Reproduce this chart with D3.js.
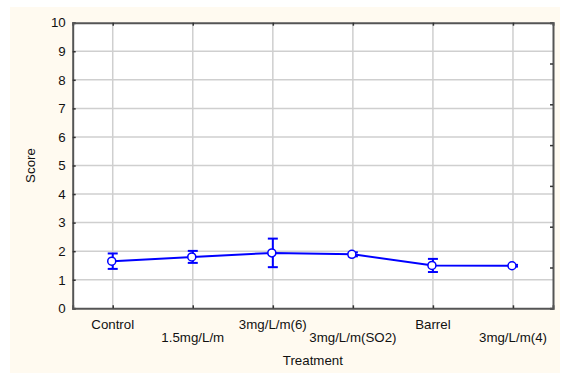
<!DOCTYPE html>
<html>
<head>
<meta charset="utf-8">
<script src="https://cdn.jsdelivr.net/npm/d3@7"></script>
<style>
  body { margin: 0; background: #fff; }
  svg { display: block; font-family: "Liberation Sans", Arial, sans-serif; }
</style>
</head>
<body>
<div id="chart"></div>
<script>
// data
const treatments = ["Control", "1.5mg/L/m", "3mg/L/m(6)", "3mg/L/m(SO2)", "Barrel", "3mg/L/m(4)"];
const means = [1.65, 1.80, 1.94, 1.89, 1.50, 1.49];
const errs = [0.27, 0.21, 0.50, 0.07, 0.23, 0.03];
const yTicks = [0, 1, 2, 3, 4, 5, 6, 7, 8, 9, 10];

const width = 561, height = 376;
const margin = {left: 72.7, right: 8, top: 22.7, bottom: 67.7};
const plotW = width - margin.left - margin.right;
const plotH = height - margin.top - margin.bottom;
const fontSize = 13.3;

const svg = d3.select('#chart').append('svg')
  .attr('width', width)
  .attr('height', height);

// cream panel behind everything
svg.append('rect')
  .attr('x', 10).attr('y', 7)
  .attr('width', 550).attr('height', 366)
  .attr('fill', '#fffaf0');

const g = svg.append('g')
  .attr('transform', `translate(${margin.left},${margin.top})`);

const x = d3.scalePoint().domain(treatments).range([0, plotW]).padding(0.5);
const y = d3.scaleLinear().domain([0, 10]).range([plotH, 0]);
// the right edge carries its own unlabeled ticks
const yRight = d3.scaleLinear().domain([0, 7]).range([plotH, 0]);

g.append('rect')
  .attr('width', plotW).attr('height', plotH)
  .attr('fill', '#fff');

// grid
g.append('g')
  .selectAll('line')
  .data(yTicks.slice(1, -1))
  .join('line')
  .attr('x1', 0).attr('x2', plotW)
  .attr('y1', d => y(d)).attr('y2', d => y(d))
  .attr('stroke', '#cfcfcf').attr('stroke-width', 1.5);

g.append('g')
  .selectAll('line')
  .data(treatments)
  .join('line')
  .attr('x1', d => x(d)).attr('x2', d => x(d))
  .attr('y1', 0).attr('y2', plotH)
  .attr('stroke', '#cfcfcf').attr('stroke-width', 1.5);

// axes
const axisColor = '#555';

const axLeft = g.append('g')
  .call(d3.axisRight(y).tickValues(yTicks).tickSize(3).tickFormat(''));
const axRight = g.append('g')
  .attr('transform', `translate(${plotW},0)`)
  .call(d3.axisLeft(yRight).ticks(7).tickSize(3).tickFormat(''));
const axTop = g.append('g')
  .call(d3.axisBottom(x).tickSize(3).tickFormat(''));
const axBottom = g.append('g')
  .attr('transform', `translate(0,${plotH})`)
  .call(d3.axisTop(x).tickSize(3).tickFormat(''));

[axLeft, axRight, axTop, axBottom].forEach(a => {
  a.select('.domain').attr('stroke', axisColor).attr('stroke-width', 2);
  a.selectAll('.tick line').attr('stroke', '#333').attr('stroke-width', 1.5);
});

// y labels
g.append('g')
  .selectAll('text')
  .data(yTicks)
  .join('text')
  .attr('x', -7)
  .attr('y', d => y(d))
  .attr('dy', '0.36em')
  .attr('text-anchor', 'end')
  .attr('font-size', fontSize)
  .attr('fill', '#111')
  .text(d => d);

// x labels, staggered in two rows
g.append('g')
  .selectAll('text')
  .data(treatments)
  .join('text')
  .attr('x', d => x(d))
  .attr('y', (d, i) => plotH + (i % 2 ? 33.5 : 20.5))
  .attr('text-anchor', 'middle')
  .attr('font-size', fontSize)
  .attr('fill', '#111')
  .text(d => d);

g.append('text')
  .attr('x', plotW / 2)
  .attr('y', plotH + 56.5)
  .attr('text-anchor', 'middle')
  .attr('font-size', fontSize)
  .attr('fill', '#111')
  .text('Treatment');

g.append('text')
  .attr('transform', `translate(${31 - margin.left + 4.5},${plotH / 2}) rotate(-90)`)
  .attr('text-anchor', 'middle')
  .attr('font-size', fontSize)
  .attr('fill', '#111')
  .text('Score');

// series
const blue = '#0000ff';
const pts = treatments.map((t, i) => ({t, m: means[i], e: errs[i]}));

g.append('path')
  .datum(pts)
  .attr('fill', 'none')
  .attr('stroke', blue)
  .attr('stroke-width', 2)
  .attr('d', d3.line().x(d => x(d.t)).y(d => y(d.m)));

const bars = g.append('g')
  .attr('stroke', blue)
  .attr('stroke-width', 2)
  .selectAll('g')
  .data(pts)
  .join('g');

bars.append('line')
  .attr('x1', d => x(d.t)).attr('x2', d => x(d.t))
  .attr('y1', d => y(d.m - d.e)).attr('y2', d => y(d.m + d.e));
bars.append('line')
  .attr('x1', d => x(d.t) - 5).attr('x2', d => x(d.t) + 5)
  .attr('y1', d => y(d.m + d.e)).attr('y2', d => y(d.m + d.e));
bars.append('line')
  .attr('x1', d => x(d.t) - 5).attr('x2', d => x(d.t) + 5)
  .attr('y1', d => y(d.m - d.e)).attr('y2', d => y(d.m - d.e));

g.append('g')
  .selectAll('circle')
  .data(pts)
  .join('circle')
  .attr('cx', d => x(d.t) - 1)
  .attr('cy', d => y(d.m))
  .attr('r', 4)
  .attr('fill', '#fff')
  .attr('stroke', blue)
  .attr('stroke-width', 1.5);
</script>
</body>
</html>
